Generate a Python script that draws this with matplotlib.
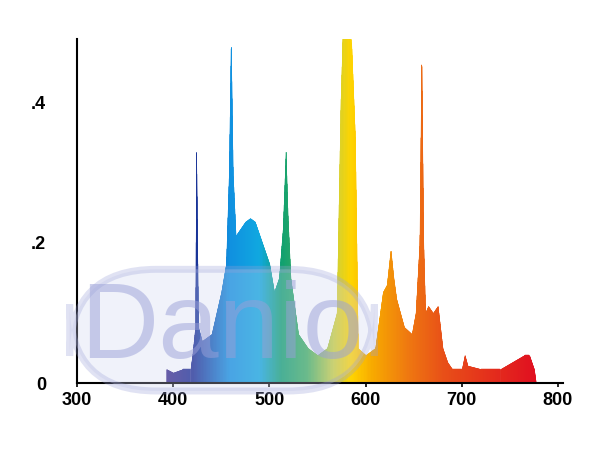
import numpy as np
import matplotlib
matplotlib.use("Agg")
import matplotlib.pyplot as plt
from matplotlib.colors import LinearSegmentedColormap
plt.rcParams['font.family'] = ['Liberation Sans', 'DejaVu Sans']

wl = [393,400,410,418,420,423,424,426,430,440,445,450,455,458,460,462,465,470,475,480,485,490,500,505,510,514,517,519,522,530,540,550,560,570,574,576,580,585,589,592,600,610,618,622,626,629,632,640,648,652,656,658,660,662,665,670,675,680,685,690,700,703,706,720,740,765,770,775,777]
val = [0.02,0.015,0.02,0.02,0.04,0.08,0.33,0.08,0.06,0.07,0.10,0.13,0.17,0.30,0.49,0.30,0.21,0.22,0.23,0.235,0.23,0.21,0.17,0.13,0.15,0.22,0.33,0.24,0.15,0.07,0.05,0.04,0.05,0.10,0.40,0.49,0.49,0.49,0.35,0.05,0.04,0.05,0.13,0.14,0.19,0.15,0.12,0.08,0.07,0.10,0.20,0.47,0.20,0.10,0.11,0.10,0.11,0.05,0.03,0.02,0.02,0.04,0.025,0.02,0.02,0.04,0.04,0.02,0.0]
xticks = [300,400,500,600,700,800]
yticks = [0,0.2,0.4]
yticklabels = ['0','.2','.4']

cmap = LinearSegmentedColormap.from_list('spec', [
    (0.0,'#3a2a8a'),(0.07,'#1a2a90'),(0.17,'#1090e0'),(0.25,'#10a8e0'),
    (0.31,'#10a070'),(0.38,'#40b060'),(0.45,'#c8d040'),(0.5,'#ffd400'),
    (0.56,'#f7a800'),(0.65,'#ef7a10'),(0.75,'#e85018'),(1.0,'#e01020')])

fig = plt.figure(figsize=(6,4.65), dpi=100)
ax = fig.add_axes([0.128, 0.176, 0.81, 0.74])
x = np.linspace(min(wl), max(wl), 1500)
y = np.interp(x, wl, val)
for i in range(len(x)-1):
    c = cmap((x[i]-393)/(777-393))
    ax.fill_between(x[i:i+2], 0, y[i:i+2], color=c, linewidth=0.3, edgecolor=c)
ax.set_xlim(303, 805)
ax.set_ylim(0, 0.49)
ax.set_xticks(xticks)
ax.set_xticklabels([str(t) for t in xticks], fontsize=13, fontweight='bold')
ax.set_yticks(yticks)
ax.set_yticklabels(yticklabels, fontsize=13, fontweight='bold')
ax.tick_params(axis='y', length=0, pad=22)
ax.tick_params(axis='x', length=3, width=1.2)
for s in ['top','right']:
    ax.spines[s].set_visible(False)
for s in ['left','bottom']:
    ax.spines[s].set_linewidth(1.5)
fig.text(0.37, 0.29, 'Danio', fontsize=78, color='#9aa0d8', alpha=0.5,
         ha='center', va='center',
         bbox=dict(boxstyle='round,pad=0.1,rounding_size=0.8', fc='#d0d4f0', ec='#9aa0d8', alpha=0.3, lw=5))
fig.savefig('out.png', dpi=100)
